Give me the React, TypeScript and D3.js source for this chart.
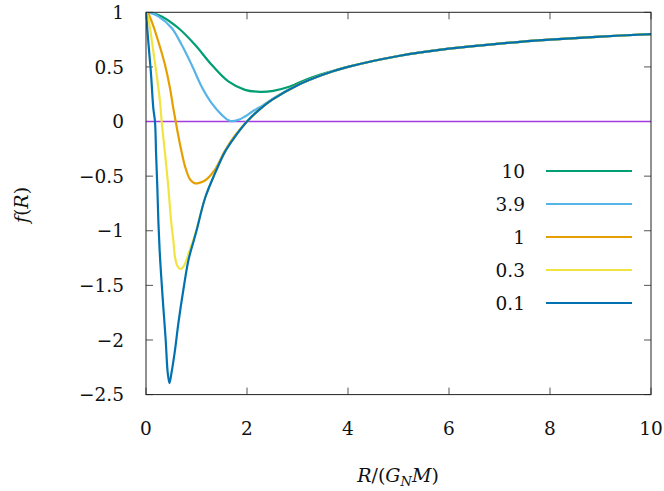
import React from 'react';
import * as d3 from 'd3';

// values
const tailR = [2.25, 2.5, 3, 3.5, 4, 5, 6, 7, 8, 9, 10];
const tailF = [0.111, 0.2, 0.333, 0.429, 0.5, 0.6, 0.667, 0.714, 0.75, 0.778, 0.8];

const r01 = [0, 0.046, 0.1, 0.145, 0.178, 0.2, 0.224, 0.244, 0.27, 0.3, 0.343, 0.39, 0.43, 0.465, 0.505, 0.575, 0.64, 0.74, 0.84, 0.94, 1.0, 1.17, 1.37, 1.56, 1.76, 2.0];
const f01 = [1, 0.73, 0.43, 0.12, 0.0, -0.3, -0.6, -0.9, -1.18, -1.41, -1.7, -2.0, -2.3, -2.395, -2.3, -2.09, -1.85, -1.54, -1.27, -1.1, -1.0, -0.7, -0.47, -0.28, -0.14, 0.0];

const r03 = [0, 0.04, 0.079, 0.145, 0.211, 0.277, 0.31, 0.376, 0.442, 0.495, 0.541, 0.574, 0.62, 0.68, 0.74, 0.8, 0.87, 0.94, 1.0, 1.17, 1.37, 1.56, 1.76, 2.0];
const f03 = [1, 0.96, 0.856, 0.642, 0.428, 0.183, 0.0, -0.29, -0.6, -0.9, -1.09, -1.24, -1.32, -1.35, -1.33, -1.27, -1.17, -1.08, -0.99, -0.7, -0.47, -0.28, -0.14, 0.0];

const r1 = [0, 0.05, 0.112, 0.244, 0.376, 0.475, 0.541, 0.6, 0.64, 0.706, 0.772, 0.871, 0.95, 1.003, 1.06, 1.168, 1.366, 1.56, 1.76, 2.0];
const f1 = [1, 0.98, 0.917, 0.733, 0.519, 0.306, 0.12, -0.03, -0.13, -0.28, -0.41, -0.53, -0.562, -0.567, -0.56, -0.54, -0.44, -0.27, -0.13, 0.0];

const r39 = [0, 0.12, 0.244, 0.508, 0.706, 0.904, 1.1, 1.3, 1.5, 1.66, 1.83, 1.96, 2.1, 2.32, 2.6, 3];
const f39 = [1, 0.99, 0.962, 0.856, 0.703, 0.519, 0.321, 0.168, 0.061, 0.006, 0.015, 0.046, 0.09, 0.15, 0.235, 0.334];

const r10 = [0, 0.15, 0.31, 0.64, 0.97, 1.3, 1.63, 1.96, 2.26, 2.52, 2.85, 3.2, 3.6, 4];
const f10 = [1, 0.99, 0.962, 0.856, 0.703, 0.519, 0.367, 0.29, 0.272, 0.281, 0.32, 0.39, 0.45, 0.502];

const labels = ['10', '3.9', '1', '0.3', '0.1'];
const colors = ['#009e73', '#56b4e9', '#e69f00', '#f0e442', '#0072b2'];

const xTicks = [0, 2, 4, 6, 8, 10];
const yTicks = [1, 0.5, 0, -0.5, -1, -1.5, -2, -2.5];

const W = 664;
const H = 491;
const left = 146, right = 651, top = 12.3, bottom = 394.6;

function withTail(r: number[], f: number[]): [number, number][] {
  const pts: [number, number][] = r.map((v, i) => [v, f[i]]);
  const last = r[r.length - 1];
  tailR.forEach((v, i) => {
    if (v > last + 1e-9) pts.push([v, tailF[i]]);
  });
  return pts;
}

const series = [
  withTail(r10, f10),
  withTail(r39, f39),
  withTail(r1, f1),
  withTail(r03, f03),
  withTail(r01, f01),
];

const font = 'DejaVu Serif';

export default function App() {
  const x = d3.scaleLinear().domain([0, 10]).range([left, right]);
  const y = d3.scaleLinear().domain([-2.5, 1]).range([bottom, top]);
  const line = d3
    .line<[number, number]>()
    .x((d) => x(d[0]))
    .y((d) => y(d[1]))
    .curve(d3.curveCatmullRom.alpha(0.5));
  const fmt = (v: number) => (v < 0 ? '\u2212' + Math.abs(v) : String(v));
  const tick = 7;

  return (
    <div style={{ position: 'fixed', left: 0, top: 0 }}>
      <svg width={W} height={H} style={{ display: 'block', background: '#fff' }}>
        <defs>
          <clipPath id="plot">
            <rect x={left} y={top} width={right - left} height={bottom - top} />
          </clipPath>
        </defs>

        {/* ticks */}
        <g stroke="#555" strokeWidth={1}>
          {xTicks.map((t) => (
            <g key={'x' + t}>
              <line x1={x(t)} x2={x(t)} y1={bottom} y2={bottom - tick} />
              <line x1={x(t)} x2={x(t)} y1={top} y2={top + tick} />
            </g>
          ))}
          {yTicks.map((t) => (
            <g key={'y' + t}>
              <line x1={left} x2={left + tick} y1={y(t)} y2={y(t)} />
              <line x1={right} x2={right - tick} y1={y(t)} y2={y(t)} />
            </g>
          ))}
        </g>

        <g clipPath="url(#plot)">
          <path
            d={line([[0, 0], [10, 0]]) || ''}
            fill="none"
            stroke="#a23be0"
            strokeWidth={1.5}
          />
          {series.map((pts, i) => (
            <path
              key={labels[i]}
              d={line(pts) || ''}
              fill="none"
              stroke={colors[i]}
              strokeWidth={2.2}
              strokeLinejoin="round"
            />
          ))}
        </g>

        <rect
          x={left}
          y={top}
          width={right - left}
          height={bottom - top}
          fill="none"
          stroke="#222"
          strokeWidth={1}
        />

        {/* tick labels */}
        <g fontFamily={font} fontSize={18.5} fill="#111">
          {yTicks.map((t) => (
            <text key={'yl' + t} x={124} y={y(t)} dy="0.36em" textAnchor="end">
              {fmt(t)}
            </text>
          ))}
          {xTicks.map((t) => (
            <text key={'xl' + t} x={x(t)} y={428} dy="0.36em" textAnchor="middle">
              {fmt(t)}
            </text>
          ))}
        </g>

        {/* axis titles */}
        <text
          fontFamily={font}
          fontSize={19}
          fill="#111"
          textAnchor="middle"
          transform="translate(21,205) rotate(-90)"
          dy="0.35em"
        >
          <tspan fontStyle="italic">f</tspan>
          <tspan>(</tspan>
          <tspan fontStyle="italic">R</tspan>
          <tspan>)</tspan>
        </text>
        <text
          fontFamily={font}
          fontSize={19}
          fill="#111"
          textAnchor="middle"
          x={398}
          y={482}
        >
          <tspan fontStyle="italic">R</tspan>
          <tspan>/(</tspan>
          <tspan fontStyle="italic">G</tspan>
          <tspan fontStyle="italic" fontSize={13} dy="4">N</tspan>
          <tspan fontStyle="italic" dy="-4">M</tspan>
          <tspan>)</tspan>
        </text>

        {/* legend */}
        <g fontFamily={font} fontSize={18.5} fill="#111">
          {labels.map((l, i) => (
            <g key={'lg' + l}>
              <text x={525} y={171 + i * 33} dy="0.36em" textAnchor="end">
                {l}
              </text>
              <line
                x1={546}
                x2={632}
                y1={171 + i * 33}
                y2={171 + i * 33}
                stroke={colors[i]}
                strokeWidth={2.2}
              />
            </g>
          ))}
        </g>
      </svg>
    </div>
  );
}
